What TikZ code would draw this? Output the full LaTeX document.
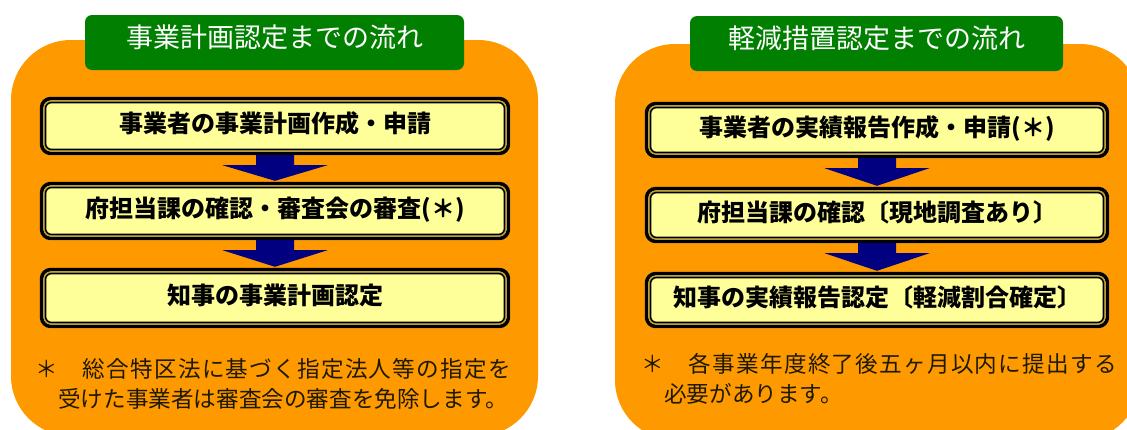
\documentclass[tikz,border=0pt]{standalone}
\usepackage{fontspec}
\setmainfont{Noto Sans CJK JP}
\newfontfamily\notefontA[LetterSpace=5.5]{Noto Sans CJK JP}
\newfontfamily\notefontB{Noto Sans CJK JP}
\usetikzlibrary{calc}
\definecolor{panelorange}{HTML}{FF9900}
\definecolor{titlegreen}{HTML}{007F00}
\definecolor{boxfill}{HTML}{FFFF99}
\definecolor{boxgold}{HTML}{C89B2A}
\definecolor{arrownavy}{HTML}{000080}
\definecolor{notecolor}{HTML}{1E1A00}
\tikzset{
  panel/.style={fill=panelorange, rounded corners=60pt},
  titlebox/.style={fill=titlegreen, rounded corners=7pt, minimum height=55pt, inner sep=0pt,
    text=white, font=\fontsize{27}{27}\selectfont, text height=1.17em, text depth=0.12em},
  stepbox/.style={fill=boxfill, rounded corners=10pt, inner sep=0pt,
    font=\fontsize{24}{24}\selectfont\bfseries, text height=1.40em, text depth=0.12em},
  noteline/.style={anchor=west, inner sep=0pt, text=notecolor, text height=0.88em, text depth=0.12em},
}
\newcommand\myStepFrame[1]{%
  \draw[black, line width=3.6pt, rounded corners=9pt]
    ([xshift=1.8pt,yshift=-1.8pt]#1.north west) rectangle ([xshift=-1.8pt,yshift=1.8pt]#1.south east);
  \draw[boxgold, line width=1.3pt, rounded corners=7pt]
    ([xshift=4.25pt,yshift=-4.25pt]#1.north west) rectangle ([xshift=-4.25pt,yshift=4.25pt]#1.south east);
  \draw[black, line width=1.6pt, rounded corners=6pt]
    ([xshift=5.7pt,yshift=-5.7pt]#1.north west) rectangle ([xshift=-5.7pt,yshift=5.7pt]#1.south east);
}
\newcommand\myFlowArrow[2]{%
  \fill[arrownavy] ($(#1.south)+(-19,0)$) -- ($(#1.south)+(19,0)$) -- ($(#1.south)+(19,10)$)
    -- ($(#1.south)+(52.5,10)$) -- ($(#2.north)+(0,-1)$) -- ($(#1.south)+(-52.5,10)$)
    -- ($(#1.south)+(-19,10)$) -- cycle;
}
\begin{document}
\begin{tikzpicture}[x=1pt,y=-1pt]
\useasboundingbox (0,0) rectangle (1127,429);
\clip (0,0) rectangle (1127,429);
% panels
\fill[panel] (11,40) rectangle (538,436);
\fill[panel] (615,44) rectangle (1140,440);
% titles
\node[titlebox, minimum width=379pt] (tl) at (274.5,42.5) {事業計画認定までの流れ};
\node[titlebox, minimum width=373pt] (tr) at (876.5,43.5) {軽減措置認定までの流れ};
% left boxes
\node[stepbox, minimum width=470pt, minimum height=58pt] (l1) at (275,126) {事業者の事業計画作成・申請};
\node[stepbox, minimum width=470pt, minimum height=58pt] (l2) at (275,211) {府担当課の確認・審査会の審査(＊)};
\node[stepbox, minimum width=470pt, minimum height=60pt] (l3) at (275,298) {知事の事業計画認定};
\myStepFrame{l1}\myStepFrame{l2}\myStepFrame{l3}
\myFlowArrow{l1}{l2}
\myFlowArrow{l2}{l3}
% right boxes
\node[stepbox, minimum width=464pt, minimum height=56pt] (r1) at (877,130) {事業者の実績報告作成・申請(＊)};
\node[stepbox, minimum width=464pt, minimum height=56pt] (r2) at (877,215) {府担当課の確認〔現地調査あり〕};
\node[stepbox, minimum width=464pt, minimum height=56pt] (r3) at (877,300) {知事の実績報告認定〔軽減割合確定〕};
\myStepFrame{r1}\myStepFrame{r2}\myStepFrame{r3}
\myFlowArrow{r1}{r2}
\myFlowArrow{r2}{r3}
% notes
\node[noteline, font=\notefontA\fontsize{22.6}{22.6}\selectfont] (nl1) at (35,374) {＊　総合特区法に基づく指定法人等の指定を};
\node[noteline, font=\notefontB\fontsize{22.6}{22.6}\selectfont] (nl2) at (58,404) {受けた事業者は審査会の審査を免除します。};
\node[noteline, font=\notefontA\fontsize{22.6}{22.6}\selectfont] (nr1) at (641,369) {＊　各事業年度終了後五ヶ月以内に提出する};
\node[noteline, font=\notefontB\fontsize{22.6}{22.6}\selectfont] (nr2) at (664,399) {必要があります。};
\end{tikzpicture}
\end{document}
